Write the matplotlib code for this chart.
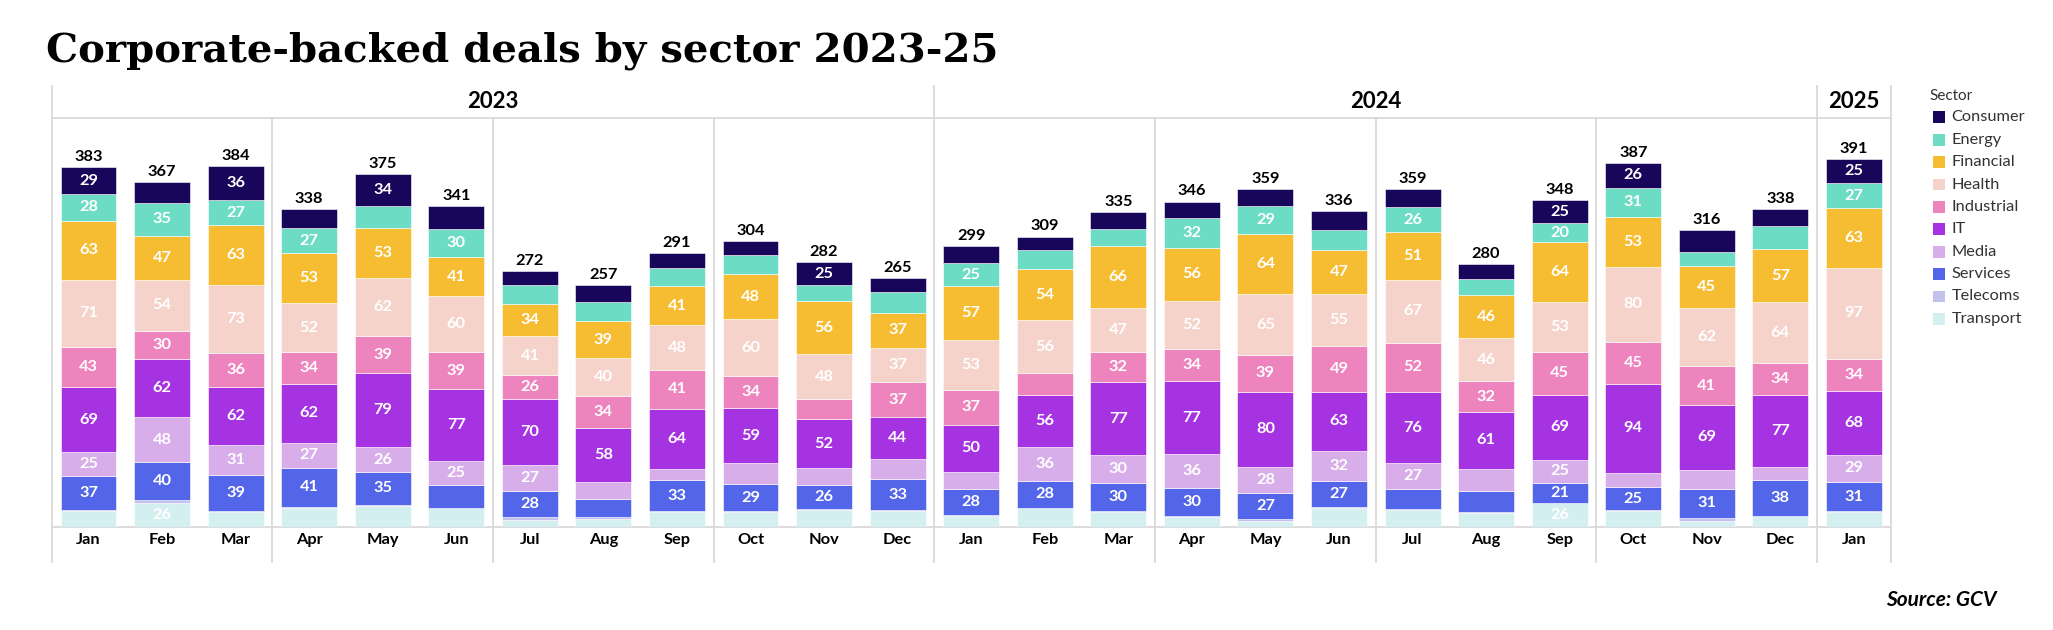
import matplotlib
matplotlib.use("Agg")
import matplotlib.pyplot as plt
from matplotlib.patches import Rectangle
import numpy as np

# ---------------- data ----------------
months = ["Jan", "Feb", "Mar", "Apr", "May", "Jun", "Jul", "Aug", "Sep", "Oct", "Nov", "Dec",
          "Jan", "Feb", "Mar", "Apr", "May", "Jun", "Jul", "Aug", "Sep", "Oct", "Nov", "Dec",
          "Jan"]
years = ["2023", "2024", "2025"]
year_counts = [12, 12, 1]

sectors = ["Consumer", "Energy", "Financial", "Health", "Industrial", "IT",
           "Media", "Services", "Telecoms", "Transport"]

consumer   = [29, 22, 36, 20, 34, 24, 14, 18, 15, 15, 25, 15, 18, 14, 18, 17, 18, 20, 19, 16, 25, 26, 23, 18, 25]
energy     = [28, 35, 27, 27, 23, 30, 21, 20, 20, 20, 17, 22, 25, 21, 18, 32, 29, 21, 26, 17, 20, 31, 15, 24, 27]
financial  = [63, 47, 63, 53, 53, 41, 34, 39, 41, 48, 56, 37, 57, 54, 66, 56, 64, 47, 51, 46, 64, 53, 45, 57, 63]
health     = [71, 54, 73, 52, 62, 60, 41, 40, 48, 60, 48, 37, 53, 56, 47, 52, 65, 55, 67, 46, 53, 80, 62, 64, 97]
industrial = [43, 30, 36, 34, 39, 39, 26, 34, 41, 34, 21, 37, 37, 23, 32, 34, 39, 49, 52, 32, 45, 45, 41, 34, 34]
it         = [69, 62, 62, 62, 79, 77, 70, 58, 64, 59, 52, 44, 50, 56, 77, 77, 80, 63, 76, 61, 69, 94, 69, 77, 68]
media      = [25, 48, 31, 27, 26, 25, 27, 18, 12, 22, 18, 22, 18, 36, 30, 36, 28, 32, 27, 23, 25, 15, 20, 14, 29]
services   = [37, 40, 39, 41, 35, 24, 28, 19, 33, 29, 26, 33, 28, 28, 30, 30, 27, 27, 22, 23, 21, 25, 31, 38, 31]
telecoms   = [1, 3, 1, 1, 1, 1, 3, 2, 1, 1, 1, 1, 1, 1, 1, 1, 2, 1, 1, 1, 0, 1, 3, 0, 1]
transport  = [17, 26, 16, 21, 23, 20, 8, 9, 16, 16, 18, 17, 12, 20, 16, 11, 7, 21, 18, 15, 26, 17, 7, 12, 16]

values = {
    "Consumer": consumer, "Energy": energy, "Financial": financial, "Health": health,
    "Industrial": industrial, "IT": it, "Media": media, "Services": services,
    "Telecoms": telecoms, "Transport": transport,
}
colors = {
    "Consumer": "#170659", "Energy": "#6DDCC5", "Financial": "#F6BD33", "Health": "#F5D3CA",
    "Industrial": "#EE84BE", "IT": "#A633E2", "Media": "#D8AEEA", "Services": "#5365E8",
    "Telecoms": "#C3C2EE", "Transport": "#D4EFEF",
}
label_min = 25
extra_labels = [(20, "Energy"), (20, "Services")]

# ---------------- figure ----------------
W, H = 2053, 630
fig = plt.figure(figsize=(W / 100, H / 100), dpi=100)
FONT = ["Lato", "DejaVu Sans"]

ax_l, ax_r = 51.7, 1890.7
base_y, top_y = 527.3, 118.3
ax = fig.add_axes([ax_l / W, (H - base_y) / H, (ax_r - ax_l) / W, (base_y - top_y) / H])
n = len(months)
x = np.arange(n)
ax.set_xlim(-0.5, n - 0.5)
ax.set_ylim(0, (base_y - top_y) / 0.941)
ax.axis("off")

bottom = np.zeros(n)
stack_order = sectors[::-1]
for s in stack_order:
    v = np.array(values[s], dtype=float)
    ax.bar(x, v, bottom=bottom, width=0.76, color=colors[s], edgecolor="white",
           linewidth=0.4, zorder=2)
    for i in range(n):
        if v[i] >= label_min or (i, s) in extra_labels:
            ax.text(x[i], bottom[i] + v[i] / 2, f"{int(v[i])}", ha="center", va="center",
                    color="white", fontsize=11.8, fontweight="bold", family=FONT, zorder=3)
    bottom += v

totals = bottom
for i in range(n):
    ax.annotate(f"{int(totals[i])}", (x[i], totals[i]), xytext=(0, 4.5), textcoords="offset points",
                ha="center", va="baseline", fontsize=11.8, fontweight="bold", color="black",
                family=FONT)

# frame lines
gc = "#D9D9D9"
tr = ax.get_xaxis_transform()
px_axes = 1.0 / (base_y - top_y)
y_low = -(561.7 - base_y) * px_axes
y_high = 1 + (top_y - 86) * px_axes
ax.plot([-0.5, n - 0.5], [1, 1], transform=tr, color=gc, lw=1.3, clip_on=False, zorder=1)
ax.plot([-0.5, n - 0.5], [0, 0], transform=tr, color=gc, lw=1.3, clip_on=False, zorder=1)

year_edges = np.cumsum([0] + year_counts) - 0.5
for q in np.arange(-0.5, n, 3):
    is_year = np.any(np.isclose(year_edges, q))
    ax.plot([q, q], [y_low, y_high if is_year else 1], transform=tr, color=gc, lw=1.3,
            clip_on=False, zorder=1)
ax.plot([n - 0.5, n - 0.5], [y_low, y_high], transform=tr, color=gc, lw=1.3, clip_on=False, zorder=1)

# year labels
for k, yname in enumerate(years):
    cx = (year_edges[k] + year_edges[k + 1]) / 2
    ax.text(cx, 1 + (top_y - 101.7) * px_axes, yname, transform=tr, ha="center", va="center",
            fontsize=16, fontweight="bold", family=FONT, color="black")

# month labels
for i, m in enumerate(months):
    ax.text(x[i], -(540 - base_y) * px_axes, m, transform=tr, ha="center", va="center",
            fontsize=11.8, fontweight="bold", family=FONT, color="black")

# title
fig.text(46 / W, 1 - 62 / H, "Corporate-backed deals by sector 2023-25", ha="left", va="baseline",
         fontsize=29, fontweight="bold", family=["DejaVu Serif"], color="black")

# legend
fig.text(1929 / W, 1 - 96 / H, "Sector", ha="left", va="center", fontsize=11,
         family=FONT, color="#333333")
sq = 11.7
for k, s in enumerate(sectors):
    cy = 117.3 + k * 22.4
    fig.add_artist(Rectangle(((1933.3) / W, 1 - (cy + sq / 2) / H), sq / W, sq / H,
                             transform=fig.transFigure, facecolor=colors[s], edgecolor="none"))
    fig.text(1951.7 / W, 1 - cy / H, s, ha="left", va="center", fontsize=11.8,
             family=FONT, color="#333333")

# source
fig.text(1997 / W, 1 - 600 / H, "Source: GCV", ha="right", va="center", fontsize=15,
         fontweight="bold", fontstyle="italic", family=FONT, color="black")

fig.savefig("out.png", dpi=100, facecolor="white")
